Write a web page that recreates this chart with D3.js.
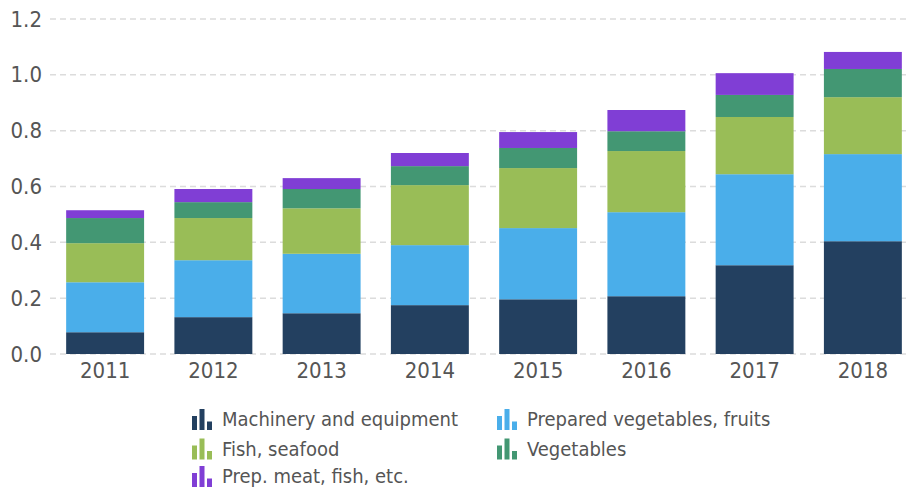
<!DOCTYPE html>
<html>
<head>
<meta charset="utf-8">
<script src="https://cdn.jsdelivr.net/npm/d3@7"></script>
<style>
  body { margin: 0; background: #fff; }
  text { font-family: "DejaVu Sans Condensed", "DejaVu Sans", sans-serif; font-stretch: condensed; }
</style>
</head>
<body>
<script>
// Data
var years = ["2011", "2012", "2013", "2014", "2015", "2016", "2017", "2018"];
var machinery = [0.078, 0.132, 0.146, 0.175, 0.196, 0.207, 0.318, 0.404];
var preparedVeg = [0.179, 0.204, 0.213, 0.215, 0.255, 0.301, 0.326, 0.312];
var fish = [0.140, 0.151, 0.163, 0.215, 0.215, 0.219, 0.205, 0.204];
var vegetables = [0.090, 0.057, 0.069, 0.068, 0.072, 0.071, 0.079, 0.101];
var prepMeat = [0.028, 0.047, 0.039, 0.047, 0.057, 0.076, 0.078, 0.061];
var yTicks = [0, 0.2, 0.4, 0.6, 0.8, 1.0, 1.2];

var seriesNames = ["Machinery and equipment", "Prepared vegetables, fruits",
  "Fish, seafood", "Vegetables", "Prep. meat, fish, etc."];
var seriesValues = [machinery, preparedVeg, fish, vegetables, prepMeat];
var colors = ["#234060", "#4aaeea", "#99bd57", "#439773", "#803ed5"];

var width = 906, height = 488;

var svg = d3.select("body").append("svg")
    .attr("width", width)
    .attr("height", height);

// Scales
var x = d3.scaleBand()
    .domain(years)
    .range([51, 917])
    .paddingInner(0.28)
    .paddingOuter(0.14);

var y = d3.scaleLinear()
    .domain([0, 1.2])
    .range([354, 19]);

// Gridlines
svg.append("g")
    .selectAll("line")
    .data(yTicks)
    .enter().append("line")
    .attr("x1", 50)
    .attr("x2", width)
    .attr("y1", function(d) { return y(d); })
    .attr("y2", function(d) { return y(d); })
    .attr("stroke", "#dcdcdc")
    .attr("stroke-width", 1.5)
    .attr("stroke-dasharray", "6,4");

// Stack the series
var table = years.map(function(yr, i) {
  var row = { year: yr };
  seriesNames.forEach(function(name, k) { row[name] = seriesValues[k][i]; });
  return row;
});
var stacked = d3.stack().keys(seriesNames)(table);

svg.append("g")
    .selectAll("g")
    .data(stacked)
    .enter().append("g")
    .attr("fill", function(d, k) { return colors[k]; })
    .selectAll("rect")
    .data(function(d) { return d; })
    .enter().append("rect")
    .attr("x", function(d) { return x(d.data.year); })
    .attr("width", x.bandwidth())
    .attr("y", function(d) { return y(d[1]); })
    .attr("height", function(d) { return y(d[0]) - y(d[1]); });

// Axes
var yAxis = svg.append("g")
    .attr("transform", "translate(50,0)")
    .call(d3.axisLeft(y).tickValues(yTicks).tickFormat(d3.format(".1f")).tickSize(0).tickPadding(8));
yAxis.select(".domain").remove();
yAxis.selectAll("text")
    .attr("fill", "#555")
    .style("font-size", "22px")
    .style("font-family", null);

var xAxis = svg.append("g")
    .attr("transform", "translate(0,354)")
    .call(d3.axisBottom(x).tickSize(0).tickPadding(8));
xAxis.select(".domain").remove();
xAxis.selectAll("text")
    .attr("fill", "#555")
    .style("font-size", "22px")
    .style("font-family", null);

// Legend
var legendX = [192, 497];
var legendY = [430, 459.5, 487];
var legend = svg.append("g")
    .selectAll("g")
    .data(seriesNames)
    .enter().append("g")
    .attr("transform", function(d, k) {
      return "translate(" + legendX[k % 2] + "," + legendY[Math.floor(k / 2)] + ")";
    });

var iconBars = [{dx: 0, w: 5, h: 14}, {dx: 7.5, w: 5, h: 21}, {dx: 15, w: 5, h: 8.5}];
legend.each(function(d, k) {
  d3.select(this).selectAll("rect")
      .data(iconBars)
      .enter().append("rect")
      .attr("x", function(b) { return b.dx; })
      .attr("y", function(b) { return -b.h; })
      .attr("width", function(b) { return b.w; })
      .attr("height", function(b) { return b.h; })
      .attr("fill", colors[k]);
});

legend.append("text")
    .attr("x", 30)
    .attr("y", -4)
    .attr("fill", "#555")
    .style("font-size", "20px")
    .text(function(d) { return d; });
</script>
</body>
</html>
